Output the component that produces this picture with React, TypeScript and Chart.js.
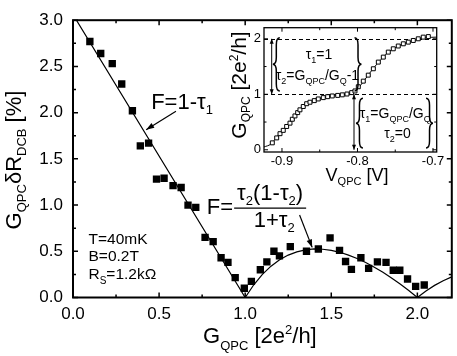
import React, { useEffect, useRef } from "react";
import { Chart, registerables } from "chart.js";

Chart.register(...registerables);

const FONT = "'Liberation Sans', Arial, Helvetica, sans-serif";

// ---------------- main panel: measured points ----------------
const gQpc = [
  0.098, 0.161, 0.228, 0.283, 0.345, 0.391, 0.439, 0.485, 0.529, 0.581,
  0.628, 0.668, 0.713, 0.767, 0.814, 0.86, 0.9, 0.942, 0.995, 1.036,
  1.088, 1.126, 1.167, 1.199, 1.262, 1.356, 1.425, 1.493, 1.548, 1.583,
  1.617, 1.672, 1.717, 1.768, 1.818, 1.86, 1.898, 1.943, 1.99, 2.04,
];
const fanoData = [
  2.77, 2.64, 2.53, 2.31, 2.02, 1.64, 1.67, 1.28, 1.29, 1.21,
  1.19, 1.0, 0.975, 0.65, 0.605, 0.43, 0.38, 0.215, 0.1, 0.175,
  0.3, 0.385, 0.5, 0.45, 0.55, 0.5, 0.525, 0.645, 0.51, 0.39,
  0.305, 0.43, 0.315, 0.385, 0.38, 0.295, 0.295, 0.2, 0.12, 0.135,
];

// ---------------- main panel: theory curve ----------------
const theoryG = [
  0.02, 1.0, 1.05, 1.1, 1.15, 1.2, 1.25, 1.3, 1.35, 1.4, 1.45, 1.5, 1.55,
  1.6, 1.65, 1.7, 1.75, 1.8, 1.85, 1.9, 1.95, 2.0, 2.05, 2.1, 2.15, 2.2,
];
const theoryF = [
  3.0, 0, 0.138, 0.25, 0.339, 0.408, 0.459, 0.494, 0.516, 0.525, 0.522, 0.51, 0.489,
  0.459, 0.422, 0.378, 0.328, 0.272, 0.211, 0.145, 0.075, 0, 0.071, 0.131, 0.181, 0.223,
];

// ---------------- inset: conductance trace ----------------
const insetV = [
  -0.9128, -0.907, -0.9026, -0.8983, -0.8938, -0.8894, -0.8863, -0.8828, -0.8792, -0.8762,
  -0.8718, -0.8673, -0.8629, -0.8572, -0.8519, -0.8453, -0.8395, -0.8334, -0.8262, -0.8201,
  -0.8139, -0.8077, -0.8033, -0.7989, -0.7923, -0.7857, -0.779, -0.7724, -0.7658, -0.7592,
  -0.7526, -0.746, -0.7393, -0.7327, -0.7261, -0.7195, -0.7129, -0.7062,
];
const insetG = [
  0.125, 0.214, 0.29, 0.35, 0.42, 0.48, 0.55, 0.61, 0.67, 0.72,
  0.78, 0.83, 0.857, 0.886, 0.916, 0.94, 0.957, 0.97, 0.98, 0.99,
  1.005, 1.03, 1.06, 1.136, 1.237, 1.345, 1.46, 1.58, 1.67, 1.76,
  1.82, 1.87, 1.91, 1.94, 1.97, 2.0, 2.03, 2.04,
];
const fitV = [
  -0.924, -0.915, -0.905, -0.895, -0.885, -0.875, -0.865, -0.85, -0.835, -0.82, -0.81,
  -0.8, -0.79, -0.78, -0.77, -0.76, -0.75, -0.74, -0.73, -0.72, -0.71, -0.695,
];
const fitG = [
  0.05, 0.1, 0.26, 0.4, 0.58, 0.75, 0.84, 0.92, 0.965, 0.99, 1.02,
  1.1, 1.27, 1.45, 1.61, 1.75, 1.84, 1.905, 1.95, 1.99, 2.02, 2.03,
];
const plateaus = [1, 2];

type Part = [string, number, number];

function drawRich(ctx: CanvasRenderingContext2D, parts: Part[], x: number, y: number, align = "left") {
  ctx.textBaseline = "alphabetic";
  ctx.textAlign = "left";
  let w = 0;
  for (const [t, s] of parts) {
    ctx.font = `${s}px ${FONT}`;
    w += ctx.measureText(t).width;
  }
  let cx = align === "center" ? x - w / 2 : align === "right" ? x - w : x;
  for (const [t, s, dy] of parts) {
    ctx.font = `${s}px ${FONT}`;
    ctx.fillText(t, cx, y + dy);
    cx += ctx.measureText(t).width;
  }
  return w;
}

function arrow(ctx: CanvasRenderingContext2D, x1: number, y1: number, x2: number, y2: number, head: number, hw: number, both = false) {
  const a = Math.atan2(y2 - y1, x2 - x1);
  ctx.beginPath();
  ctx.moveTo(x1, y1);
  ctx.lineTo(x2, y2);
  ctx.stroke();
  const hd = (x: number, y: number, an: number) => {
    ctx.beginPath();
    ctx.moveTo(x, y);
    ctx.lineTo(x - head * Math.cos(an) + hw * Math.sin(an), y - head * Math.sin(an) - hw * Math.cos(an));
    ctx.lineTo(x - head * Math.cos(an) - hw * Math.sin(an), y - head * Math.sin(an) + hw * Math.cos(an));
    ctx.closePath();
    ctx.fill();
  };
  hd(x2, y2, a);
  if (both) hd(x1, y1, a + Math.PI);
}

function brace(ctx: CanvasRenderingContext2D, x: number, y1: number, y2: number, w: number, dir: number) {
  const ym = (y1 + y2) / 2;
  const r = Math.min(w, (y2 - y1) / 6);
  const s = dir;
  ctx.beginPath();
  ctx.moveTo(x + (s * w) / 2, y1);
  ctx.quadraticCurveTo(x, y1, x, y1 + r);
  ctx.lineTo(x, ym - r);
  ctx.quadraticCurveTo(x, ym, x - (s * w) / 2, ym);
  ctx.quadraticCurveTo(x, ym, x, ym + r);
  ctx.lineTo(x, y2 - r);
  ctx.quadraticCurveTo(x, y2, x + (s * w) / 2, y2);
  ctx.stroke();
}

function frameTicks(chart: any, cfg: any) {
  const { ctx, chartArea: a } = chart;
  const xs = chart.scales.x;
  const ys = chart.scales.y;
  ctx.save();
  ctx.strokeStyle = "#000";
  ctx.lineWidth = cfg.frame;
  ctx.strokeRect(a.left, a.top, a.right - a.left, a.bottom - a.top);
  ctx.lineWidth = cfg.tick;
  ctx.beginPath();
  const isMajor = (v: number, m: number) => Math.abs(v / m - Math.round(v / m)) < 1e-6;
  const k0 = Math.ceil(xs.min / cfg.xMinor - 1e-6);
  const k1 = Math.floor(xs.max / cfg.xMinor + 1e-6);
  for (let k = k0; k <= k1; k++) {
    const v = k * cfg.xMinor;
    const p = xs.getPixelForValue(v);
    const L = isMajor(v, cfg.xMajor) ? cfg.major : cfg.minor;
    ctx.moveTo(p, a.bottom);
    ctx.lineTo(p, a.bottom - L);
    ctx.moveTo(p, a.top);
    ctx.lineTo(p, a.top + L);
  }
  const j0 = Math.ceil(ys.min / cfg.yMinor - 1e-6);
  const j1 = Math.floor(ys.max / cfg.yMinor + 1e-6);
  for (let j = j0; j <= j1; j++) {
    const v = j * cfg.yMinor;
    const p = ys.getPixelForValue(v);
    const L = isMajor(v, cfg.yMajor) ? cfg.major : cfg.minor;
    ctx.moveTo(a.left, p);
    ctx.lineTo(a.left + L, p);
    ctx.moveTo(a.right, p);
    ctx.lineTo(a.right - L, p);
  }
  ctx.stroke();
  ctx.restore();
}

const mainPlugin = {
  id: "mainDecor",
  afterDraw(chart: any) {
    frameTicks(chart, { frame: 2, tick: 1.5, major: 5, minor: 3, xMinor: 0.25, xMajor: 0.5, yMinor: 0.25, yMajor: 0.5 });
    const ctx: CanvasRenderingContext2D = chart.ctx;
    const xs = chart.scales.x;
    const ys = chart.scales.y;
    const a = chart.chartArea;
    const px = (v: number) => xs.getPixelForValue(v);
    const py = (v: number) => ys.getPixelForValue(v);
    ctx.save();
    ctx.fillStyle = "#000";
    ctx.strokeStyle = "#000";
    ctx.lineWidth = 1.2;

    // F = 1 - tau1
    drawRich(ctx, [["F=1-τ", 22, 0], ["1", 13, 5]], px(0.454), py(2.044));
    arrow(ctx, px(0.598), py(2.016), px(0.425), py(1.816), 8, 2.8);

    // F = tau2(1-tau2)/(1+tau2)
    const cx = px(1.145);
    const cy = py(0.966);
    drawRich(ctx, [["F=", 22, 0]], cx - 37, cy + 6, "right");
    drawRich(ctx, [["τ", 22, 0], ["2", 13, 5], ["(1-τ", 22, 0], ["2", 13, 5], [")", 22, 0]], cx, cy - 8.5, "center");
    ctx.beginPath();
    ctx.moveTo(cx - 36, cy);
    ctx.lineTo(cx + 36, cy);
    ctx.stroke();
    drawRich(ctx, [["1+τ", 22, 0], ["2", 13, 5]], cx + 4, cy + 19, "center");
    arrow(ctx, px(1.316), py(0.893), px(1.389), py(0.542), 8, 2.8);

    // parameters
    drawRich(ctx, [["T=40mK", 15.5, 0]], px(0.09), py(0.577));
    drawRich(ctx, [["B=0.2T", 15.5, 0]], px(0.09), py(0.395));
    drawRich(ctx, [["R", 15.5, 0], ["S", 10, 5], ["=1.2kΩ", 15.5, 0]], px(0.09), py(0.202));

    // axis titles
    drawRich(
      ctx,
      [["G", 22, 0], ["QPC", 13, 7], [" [2e", 22, 0], ["2", 13, -9], ["/h]", 22, 0]],
      (a.left + a.right) / 2 - 2.5,
      343,
      "center"
    );
    ctx.save();
    ctx.translate(21, 160);
    ctx.rotate(-Math.PI / 2);
    drawRich(ctx, [["G", 22, 0], ["QPC", 13, 5], ["δR", 22, 0], ["DCB", 13, 5], [" [%]", 22, 0]], 0, 0, "center");
    ctx.restore();
    ctx.restore();
  },
};

const insetPlugin = {
  id: "insetDecor",
  beforeDatasetsDraw(chart: any) {
    const ctx: CanvasRenderingContext2D = chart.ctx;
    const a = chart.chartArea;
    const ys = chart.scales.y;
    ctx.save();
    ctx.strokeStyle = "#000";
    ctx.lineWidth = 1;
    ctx.setLineDash([4, 3]);
    for (const g of plateaus) {
      const p = Math.round(ys.getPixelForValue(g)) + 0.5;
      ctx.beginPath();
      ctx.moveTo(a.left, p);
      ctx.lineTo(a.right, p);
      ctx.stroke();
    }
    ctx.restore();
  },
  afterDraw(chart: any) {
    frameTicks(chart, { frame: 1.3, tick: 1, major: 4, minor: 2.5, xMinor: 0.05, xMajor: 0.1, yMinor: 0.5, yMajor: 1 });
    const ctx: CanvasRenderingContext2D = chart.ctx;
    const xs = chart.scales.x;
    const ys = chart.scales.y;
    const px = (v: number) => xs.getPixelForValue(v);
    const py = (v: number) => ys.getPixelForValue(v);
    ctx.save();
    ctx.fillStyle = "#000";
    ctx.strokeStyle = "#000";
    ctx.lineWidth = 1;

    arrow(ctx, px(-0.9136), py(1.0), px(-0.9136), py(2.0), 5, 2, true);
    arrow(ctx, px(-0.8046), py(0.0), px(-0.8046), py(1.0), 5, 2, true);

    ctx.lineWidth = 1.5;
    brace(ctx, px(-0.9075), py(2.02), py(1.06), 7, 1);
    brace(ctx, px(-0.7993), py(2.02), py(1.06), 7, -1);
    brace(ctx, px(-0.7974), py(0.93), py(0.03), 7, 1);
    brace(ctx, px(-0.7046), py(0.93), py(0.03), 7, -1);

    drawRich(ctx, [["τ", 14, 0], ["1", 9, 4], ["=1", 14, 0]], px(-0.851), py(1.643), "center");
    drawRich(
      ctx,
      [["τ", 14, 0], ["2", 9, 4], ["=G", 14, 0], ["QPC", 9, 4], ["/G", 14, 0], ["Q", 9, 4], ["-1", 14, 0]],
      px(-0.853),
      py(1.255),
      "center"
    );
    drawRich(
      ctx,
      [["τ", 14, 0], ["1", 9, 4], ["=G", 14, 0], ["QPC", 9, 4], ["/G", 14, 0], ["Q", 9, 4]],
      px(-0.75),
      py(0.571),
      "center"
    );
    drawRich(ctx, [["τ", 14, 0], ["2", 9, 4], ["=0", 14, 0]], px(-0.747), py(0.214), "center");

    // axis titles
    drawRich(ctx, [["V", 18, 0], ["QPC", 11, 4], [" [V]", 18, 0]], 142, 171, "center");
    ctx.save();
    ctx.translate(31, 75);
    ctx.rotate(-Math.PI / 2);
    drawRich(ctx, [["G", 21, 0], ["QPC", 12, 4], [" [2e", 21, 0], ["2", 12, -8], ["/h]", 21, 0]], 0, 0, "center");
    ctx.restore();
    ctx.restore();
  },
};

export default function App() {
  const mainRef = useRef<HTMLCanvasElement>(null);
  const insetRef = useRef<HTMLCanvasElement>(null);

  useEffect(() => {
    const main = new Chart(mainRef.current as HTMLCanvasElement, {
      type: "scatter",
      data: {
        datasets: [
          {
            data: gQpc.map((x, i) => ({ x, y: fanoData[i] })),
            pointStyle: "rect",
            pointRadius: 5.2,
            backgroundColor: "#000",
            borderColor: "#000",
            borderWidth: 0,
          },
          {
            data: theoryG.map((x, i) => ({ x, y: theoryF[i] })),
            showLine: true,
            pointRadius: 0,
            borderColor: "#000",
            borderWidth: 1.2,
            tension: 0,
          },
        ],
      },
      options: {
        animation: false,
        responsive: false,
        layout: { padding: { top: 12.5, right: 2, left: 0, bottom: 0 } },
        plugins: { legend: { display: false }, tooltip: { enabled: false } },
        scales: {
          x: {
            type: "linear",
            min: 0,
            max: 2.2,
            grid: { display: false, drawTicks: false },
            border: { display: false },
            ticks: {
              stepSize: 0.5,
              includeBounds: false,
              padding: 7,
              color: "#000",
              maxRotation: 0,
              autoSkip: false,
              font: { family: FONT, size: 17 },
              callback: (v: any) => Number(v).toFixed(1),
            },
            afterFit: (s: any) => {
              s.height = 58.5;
            },
          },
          y: {
            type: "linear",
            min: 0,
            max: 3,
            grid: { display: false, drawTicks: false },
            border: { display: false },
            ticks: {
              stepSize: 0.5,
              includeBounds: false,
              padding: 10,
              color: "#000",
              font: { family: FONT, size: 17 },
              callback: (v: any) => Number(v).toFixed(1),
            },
            afterFit: (s: any) => {
              s.width = 73;
            },
          },
        },
      },
      plugins: [mainPlugin],
    } as any);

    const inset = new Chart(insetRef.current as HTMLCanvasElement, {
      type: "scatter",
      data: {
        datasets: [
          {
            data: insetV.map((x, i) => ({ x, y: insetG[i] })),
            pointStyle: "rect",
            pointRadius: 2.8,
            backgroundColor: "#fff",
            borderColor: "#000",
            borderWidth: 1,
          },
          {
            data: fitV.map((x, i) => ({ x, y: fitG[i] })),
            showLine: true,
            pointRadius: 0,
            borderColor: "#000",
            borderWidth: 1,
            tension: 0.35,
          },
        ],
      },
      options: {
        animation: false,
        responsive: false,
        layout: { padding: { top: 17.7, right: 13.3, left: 0, bottom: 0 } },
        plugins: { legend: { display: false }, tooltip: { enabled: false } },
        scales: {
          x: {
            type: "linear",
            min: -0.9238,
            max: -0.6951,
            grid: { display: false, drawTicks: false },
            border: { display: false },
            ticks: {
              stepSize: 0.1,
              includeBounds: false,
              padding: 2,
              color: "#000",
              maxRotation: 0,
              autoSkip: false,
              font: { family: FONT, size: 13 },
              callback: (v: any) => Number(v).toFixed(1),
            },
            afterFit: (s: any) => {
              s.height = 43;
            },
          },
          y: {
            type: "linear",
            min: -0.04,
            max: 2.2,
            grid: { display: false, drawTicks: false },
            border: { display: false },
            ticks: {
              stepSize: 1,
              includeBounds: false,
              padding: 3,
              color: "#000",
              font: { family: FONT, size: 13 },
              callback: (v: any) => String(Math.round(Number(v))),
            },
            afterFit: (s: any) => {
              s.width = 49;
            },
          },
        },
      },
      plugins: [insetPlugin],
    } as any);

    return () => {
      main.destroy();
      inset.destroy();
    };
  }, []);

  return (
    <div style={{ position: "absolute", left: 0, top: 0, width: 457, height: 356, background: "#fff" }}>
      <canvas ref={mainRef} width={457} height={356} style={{ position: "absolute", left: 0, top: 0, width: 457, height: 356 }} />
      <canvas ref={insetRef} width={235} height={185} style={{ position: "absolute", left: 215, top: 10, width: 235, height: 185 }} />
    </div>
  );
}
